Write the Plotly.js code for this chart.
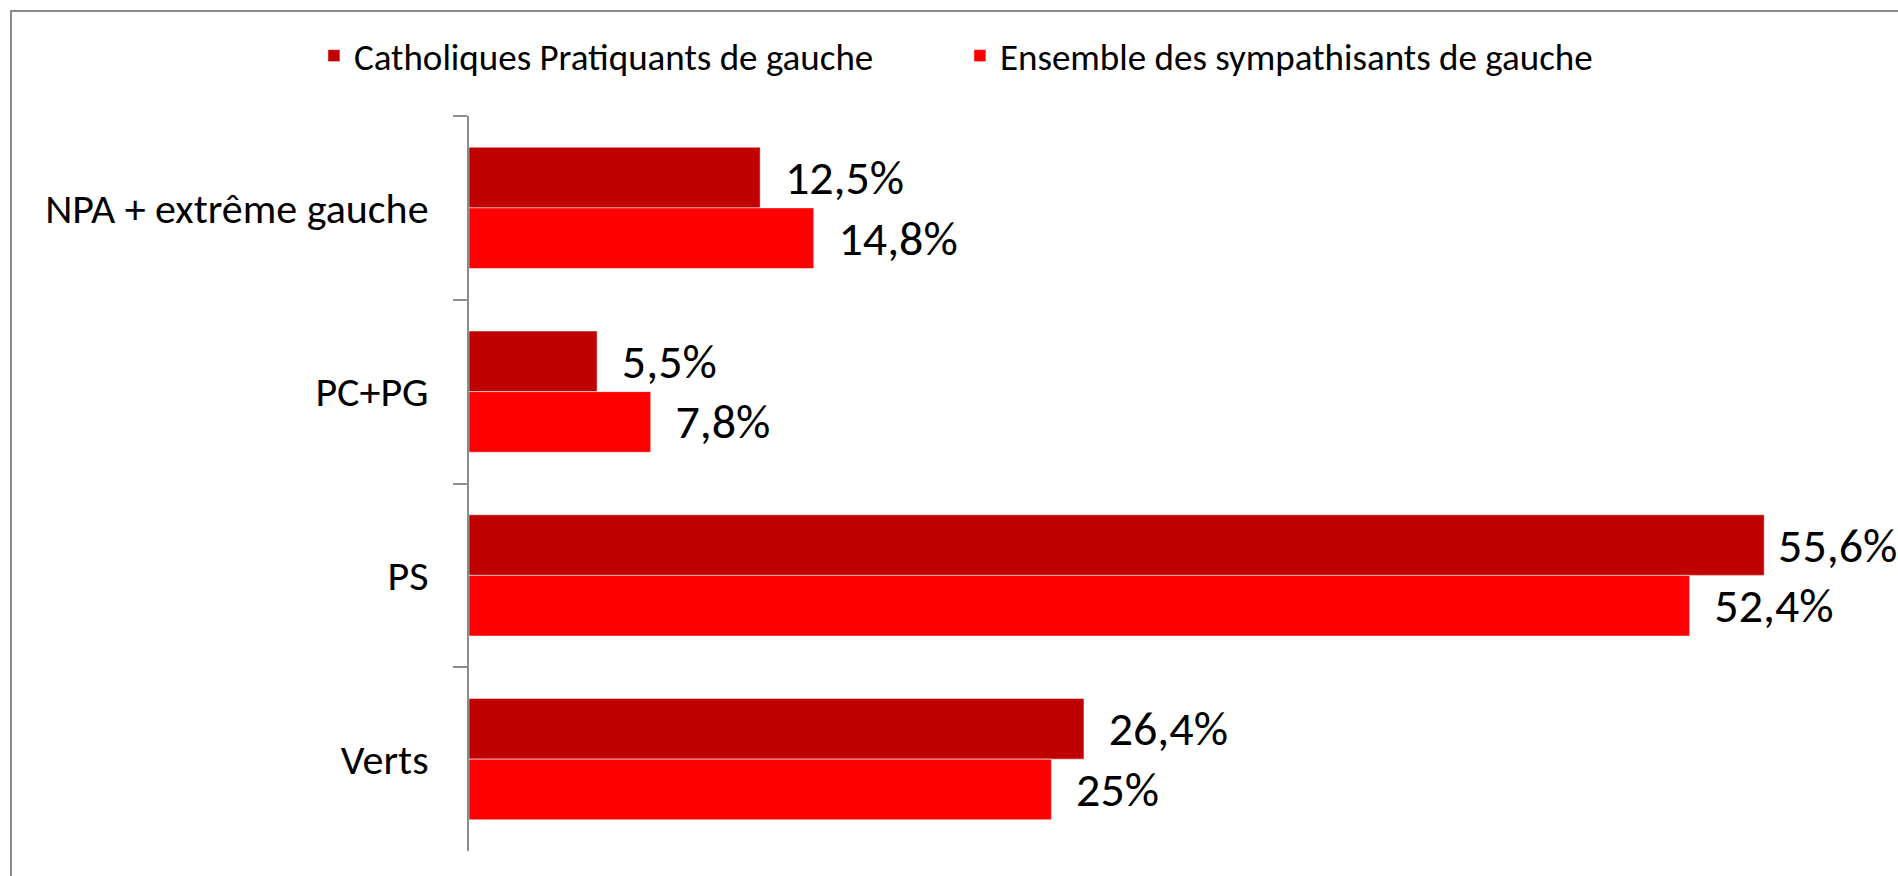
<!DOCTYPE html>
<html>
<head>
<meta charset="utf-8">
<script src="https://cdn.plot.ly/plotly-3.0.1.min.js"></script>
<style>
  html, body { margin: 0; padding: 0; background: #fff; }
  #cadre { position: absolute; left: 10px; top: 10px; width: 1900px; height: 900px;
           border-top: 2px solid #8c8c8c; border-left: 2px solid #8c8c8c; }
  #graphe { position: absolute; left: 0; top: 0; width: 1898px; height: 876px; }
</style>
</head>
<body>
<div id="cadre"></div>
<div id="graphe"></div>
<script>
const partis = ["NPA + extrême gauche", "PC+PG", "PS", "Verts"];
const catholiques = [12.5, 5.5, 55.6, 26.4];
const ensemble = [14.8, 7.8, 52.4, 25];

// étiquette à la française, un peu décalée de la barre (moins pour la plus longue)
const etiquette = v => (v > 55 ? "\u00A0" : "\u00A0\u00A0") + String(v).replace(".", ",") + "%";
const police = "Calibri, Carlito, Lato, sans-serif";

Plotly.newPlot("graphe", [{
  type: "bar",
  orientation: "h",
  name: "Catholiques Pratiquants de gauche",
  y: partis,
  x: catholiques,
  text: catholiques.map(etiquette),
  textposition: "outside",
  cliponaxis: false,
  textfont: { family: police, size: 48, color: "#000" },
  marker: { color: "#c00000", line: { width: 1, color: "rgba(255,255,255,0.5)" } }
}, {
  type: "bar",
  orientation: "h",
  name: "Ensemble des sympathisants de gauche",
  y: partis,
  x: ensemble,
  text: ensemble.map(etiquette),
  textposition: "outside",
  cliponaxis: false,
  textfont: { family: police, size: 48, color: "#000" },
  marker: { color: "#ff0000", line: { width: 1, color: "rgba(255,255,255,0.5)" } }
}], {
  width: 1898,
  height: 876,
  margin: { l: 469, r: 8, t: 116, b: 25 },
  paper_bgcolor: "rgba(0,0,0,0)",
  plot_bgcolor: "rgba(0,0,0,0)",
  font: { family: police, color: "#000" },
  barmode: "group",
  bargap: 0.34,
  bargroupgap: 0,
  xaxis: { range: [0, 61], visible: false, fixedrange: true },
  yaxis: {
    type: "category",
    autorange: "reversed",
    showline: true,
    linecolor: "#8c8c8c",
    linewidth: 2,
    ticks: "outside",
    tickson: "boundaries",
    ticklen: 14,
    tickwidth: 2,
    tickcolor: "#8c8c8c",
    ticklabelstandoff: 30,
    tickfont: { family: police, size: 42, color: "#000" },
    showgrid: false,
    zeroline: false
  },
  legend: {
    orientation: "h",
    xref: "container",
    yref: "container",
    x: 0.1654,
    y: 0.936,
    xanchor: "left",
    yanchor: "middle",
    entrywidthmode: "pixels",
    entrywidth: 601,
    font: { family: police, size: 37, color: "#000" }
  },
  showlegend: true
}, { displayModeBar: false, staticPlot: true });
</script>
</body>
</html>
